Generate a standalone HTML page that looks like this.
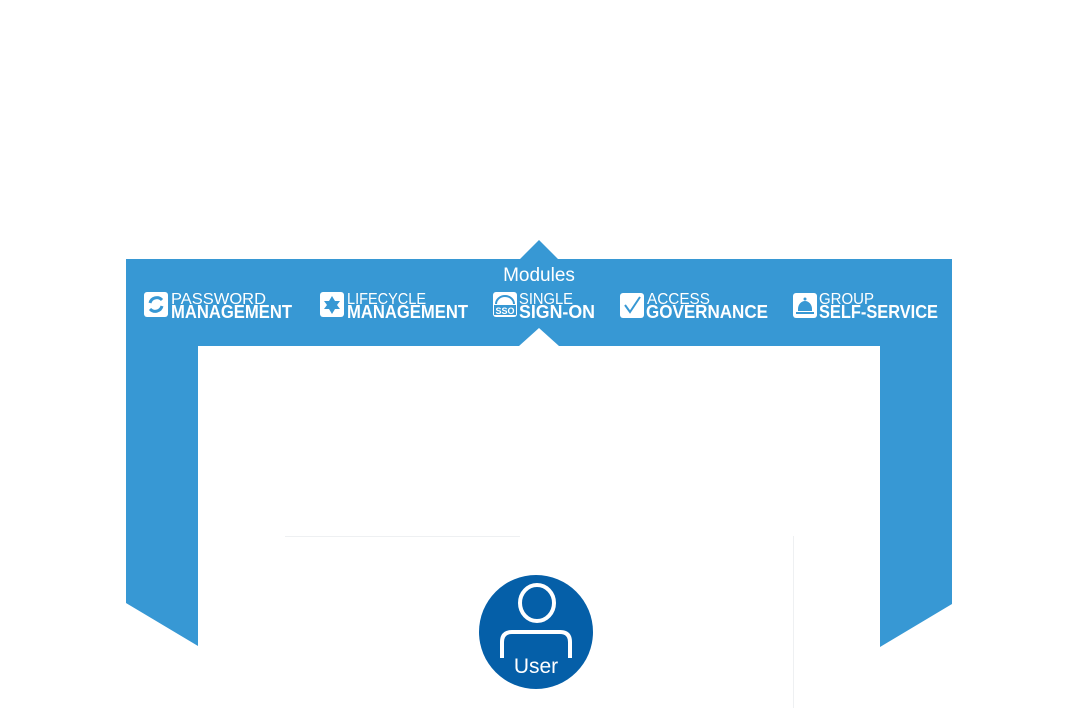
<!DOCTYPE html>
<html><head><meta charset="utf-8"><style>
html,body{margin:0;padding:0;background:#fff;width:1080px;height:720px;overflow:hidden}
svg{display:block}
text{font-family:"Liberation Sans","DejaVu Sans",sans-serif;fill:#fff}
.s{font-size:15.5px;font-weight:normal}
.b{font-size:18px;font-weight:bold}
</style></head><body>
<svg width="1080" height="720" viewBox="0 0 1080 720" xmlns="http://www.w3.org/2000/svg">
<path d="M126,259 L520,259 L539,240 L558,259 L952,259 L952,604 L880,647 L880,346 L559,346 L539,328 L519,346 L198,346 L198,646 L126,603 Z" fill="#3798d4"/>
<line x1="285" y1="536.5" x2="520" y2="536.5" stroke="#eef0f2" stroke-width="1"/>
<line x1="793.5" y1="536" x2="793.5" y2="708" stroke="#eef0f2" stroke-width="1"/>
<text x="539" y="281" text-anchor="middle" style="font-size:19px">Modules</text>

<rect x="144" y="292" width="24" height="25" rx="3" fill="#fff"/>
<path d="M150,303 A7,7 0 0 1 162,300" stroke="#3798d4" stroke-width="3" fill="none"/>
<path d="M162,306 A7,7 0 0 1 150,309" stroke="#3798d4" stroke-width="3" fill="none"/>
<text class="s" x="171" y="304" textLength="95" lengthAdjust="spacingAndGlyphs">PASSWORD</text>
<text class="b" x="171" y="318" textLength="121" lengthAdjust="spacingAndGlyphs">MANAGEMENT</text>

<rect x="320" y="292" width="24" height="25" rx="3" fill="#fff"/>
<polygon points="332,296 335,301 340,301 337,305 340,309 335,309 332,314 329,309 324,309 327,305 324,301 329,301" fill="#3798d4"/>
<text class="s" x="347" y="304" textLength="79" lengthAdjust="spacingAndGlyphs">LIFECYCLE</text>
<text class="b" x="347" y="318" textLength="121" lengthAdjust="spacingAndGlyphs">MANAGEMENT</text>

<rect x="493" y="292" width="24" height="25" rx="3" fill="#fff"/>
<path d="M496,304 A9,8 0 0 1 514,304" stroke="#3798d4" stroke-width="2" fill="none"/>
<rect x="494" y="305" width="22" height="10" fill="#3798d4"/>
<text x="505" y="314" text-anchor="middle" style="font-size:9px;font-weight:bold">SSO</text>
<text class="s" x="519" y="304" textLength="54" lengthAdjust="spacingAndGlyphs">SINGLE</text>
<text class="b" x="519" y="318" textLength="76" lengthAdjust="spacingAndGlyphs">SIGN-ON</text>

<rect x="620" y="293" width="24" height="25" rx="3" fill="#fff"/>
<path d="M625,305 L630,312 L640,297" stroke="#3798d4" stroke-width="2" fill="none"/>
<text class="s" x="647" y="304" textLength="63" lengthAdjust="spacingAndGlyphs">ACCESS</text>
<text class="b" x="646" y="318" textLength="122" lengthAdjust="spacingAndGlyphs">GOVERNANCE</text>

<rect x="793" y="293" width="24" height="25" rx="3" fill="#fff"/>
<path d="M798,311 L798,309 A7,8 0 0 1 812,309 L812,311 Z" fill="#3798d4"/>
<circle cx="805" cy="299" r="1.5" fill="#3798d4"/>
<rect x="796" y="312" width="18" height="2" fill="#3798d4"/>
<text class="s" x="819" y="304" textLength="55" lengthAdjust="spacingAndGlyphs">GROUP</text>
<text class="b" x="819" y="318" textLength="119" lengthAdjust="spacingAndGlyphs">SELF-SERVICE</text>

<ellipse cx="536" cy="632" rx="57" ry="57" fill="#055fa8"/>
<ellipse cx="537" cy="603" rx="17" ry="18" stroke="#fff" stroke-width="4" fill="none"/>
<path d="M502,658 L502,642 Q502,632 512,632 L560,632 Q570,632 570,642 L570,658" stroke="#fff" stroke-width="4" fill="none"/>
<text x="536" y="673" text-anchor="middle" style="font-size:21px">User</text>
</svg>
</body></html>
